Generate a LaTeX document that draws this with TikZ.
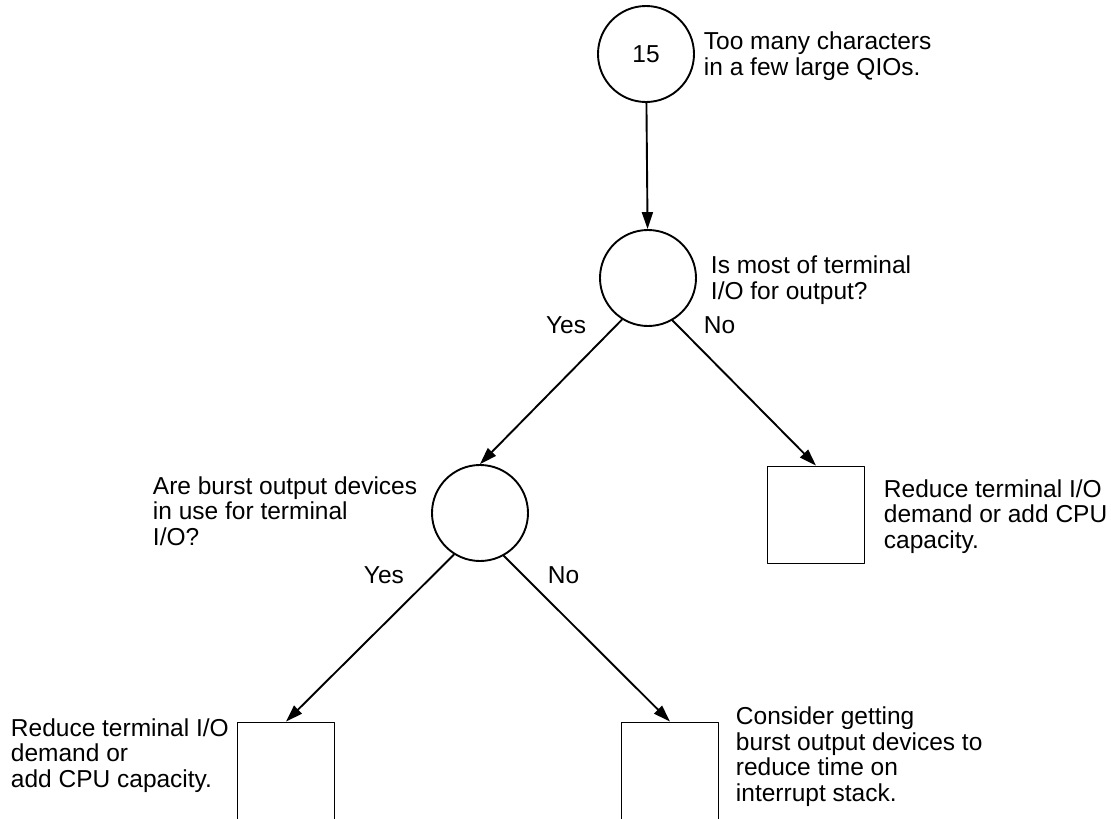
\documentclass[tikz,border=0pt]{standalone}
\usepackage{fontspec}
\setmainfont{Liberation Sans}
\usetikzlibrary{arrows.meta}
\begin{document}
\begin{tikzpicture}[line join=round,line cap=round,x=1pt,y=-1pt,line width=1.9pt,
	>={Triangle[length=17pt,width=11pt]}]
	\tikzset{every node/.style={font=\fontsize{24.5}{25.5}\selectfont},
		dec/.style={draw,circle,minimum size=96pt,inner sep=0pt},
		act/.style={draw,rectangle,minimum size=97pt,inner sep=0pt},
		txt/.style={align=left,anchor=base west,inner sep=0pt},
		lbl/.style={inner sep=0pt}}
	\useasboundingbox (0,0) rectangle (1111,819);
	% decisions
	\node[dec] (q15) at (646,54) {15};
	\node[dec] (qout) at (648,278) {};
	\node[dec] (qburst) at (480,513) {};
	% actions
	\node[act] (aright) at (816,515) {};
	\node[act] (aleft) at (286,771) {};
	\node[act] (amid) at (670,771) {};
	% texts (placed at the baseline of their last line)
	\node[txt] (t15) at (703,75) {Too many characters\\in a few large QIOs.};
	\node[txt] (tout) at (710,299) {Is most of terminal\\I/O for output?};
	\node[txt] (tburst) at (152,545) {Are burst output devices\\in use for terminal\\I/O?};
	\node[txt] (tright) at (883,548) {Reduce terminal I/O\\demand or add CPU\\capacity.};
	\node[txt] (tleft) at (10,787) {Reduce terminal I/O\\demand or\\add CPU capacity.};
	\node[txt] (tmid) at (735,801) {Consider getting\\burst output devices to\\reduce time on\\interrupt stack.};
	% connectors
	\draw[->] (q15) -- (qout);
	\draw[->] (qout.-122) -- (qburst.north) node[lbl, anchor=base east] at (587,333) {Yes};
	\draw[->] (qout.-60) -- (aright.north) node[lbl, anchor=base west] at (703,333) {No};
	\draw[->] (qburst.-122) -- (aleft.north) node[lbl, anchor=base west] at (363,583) {Yes};
	\draw[->] (qburst.-61) -- (amid.north) node[lbl, anchor=base west] at (547,583) {No};
\end{tikzpicture}
\end{document}
